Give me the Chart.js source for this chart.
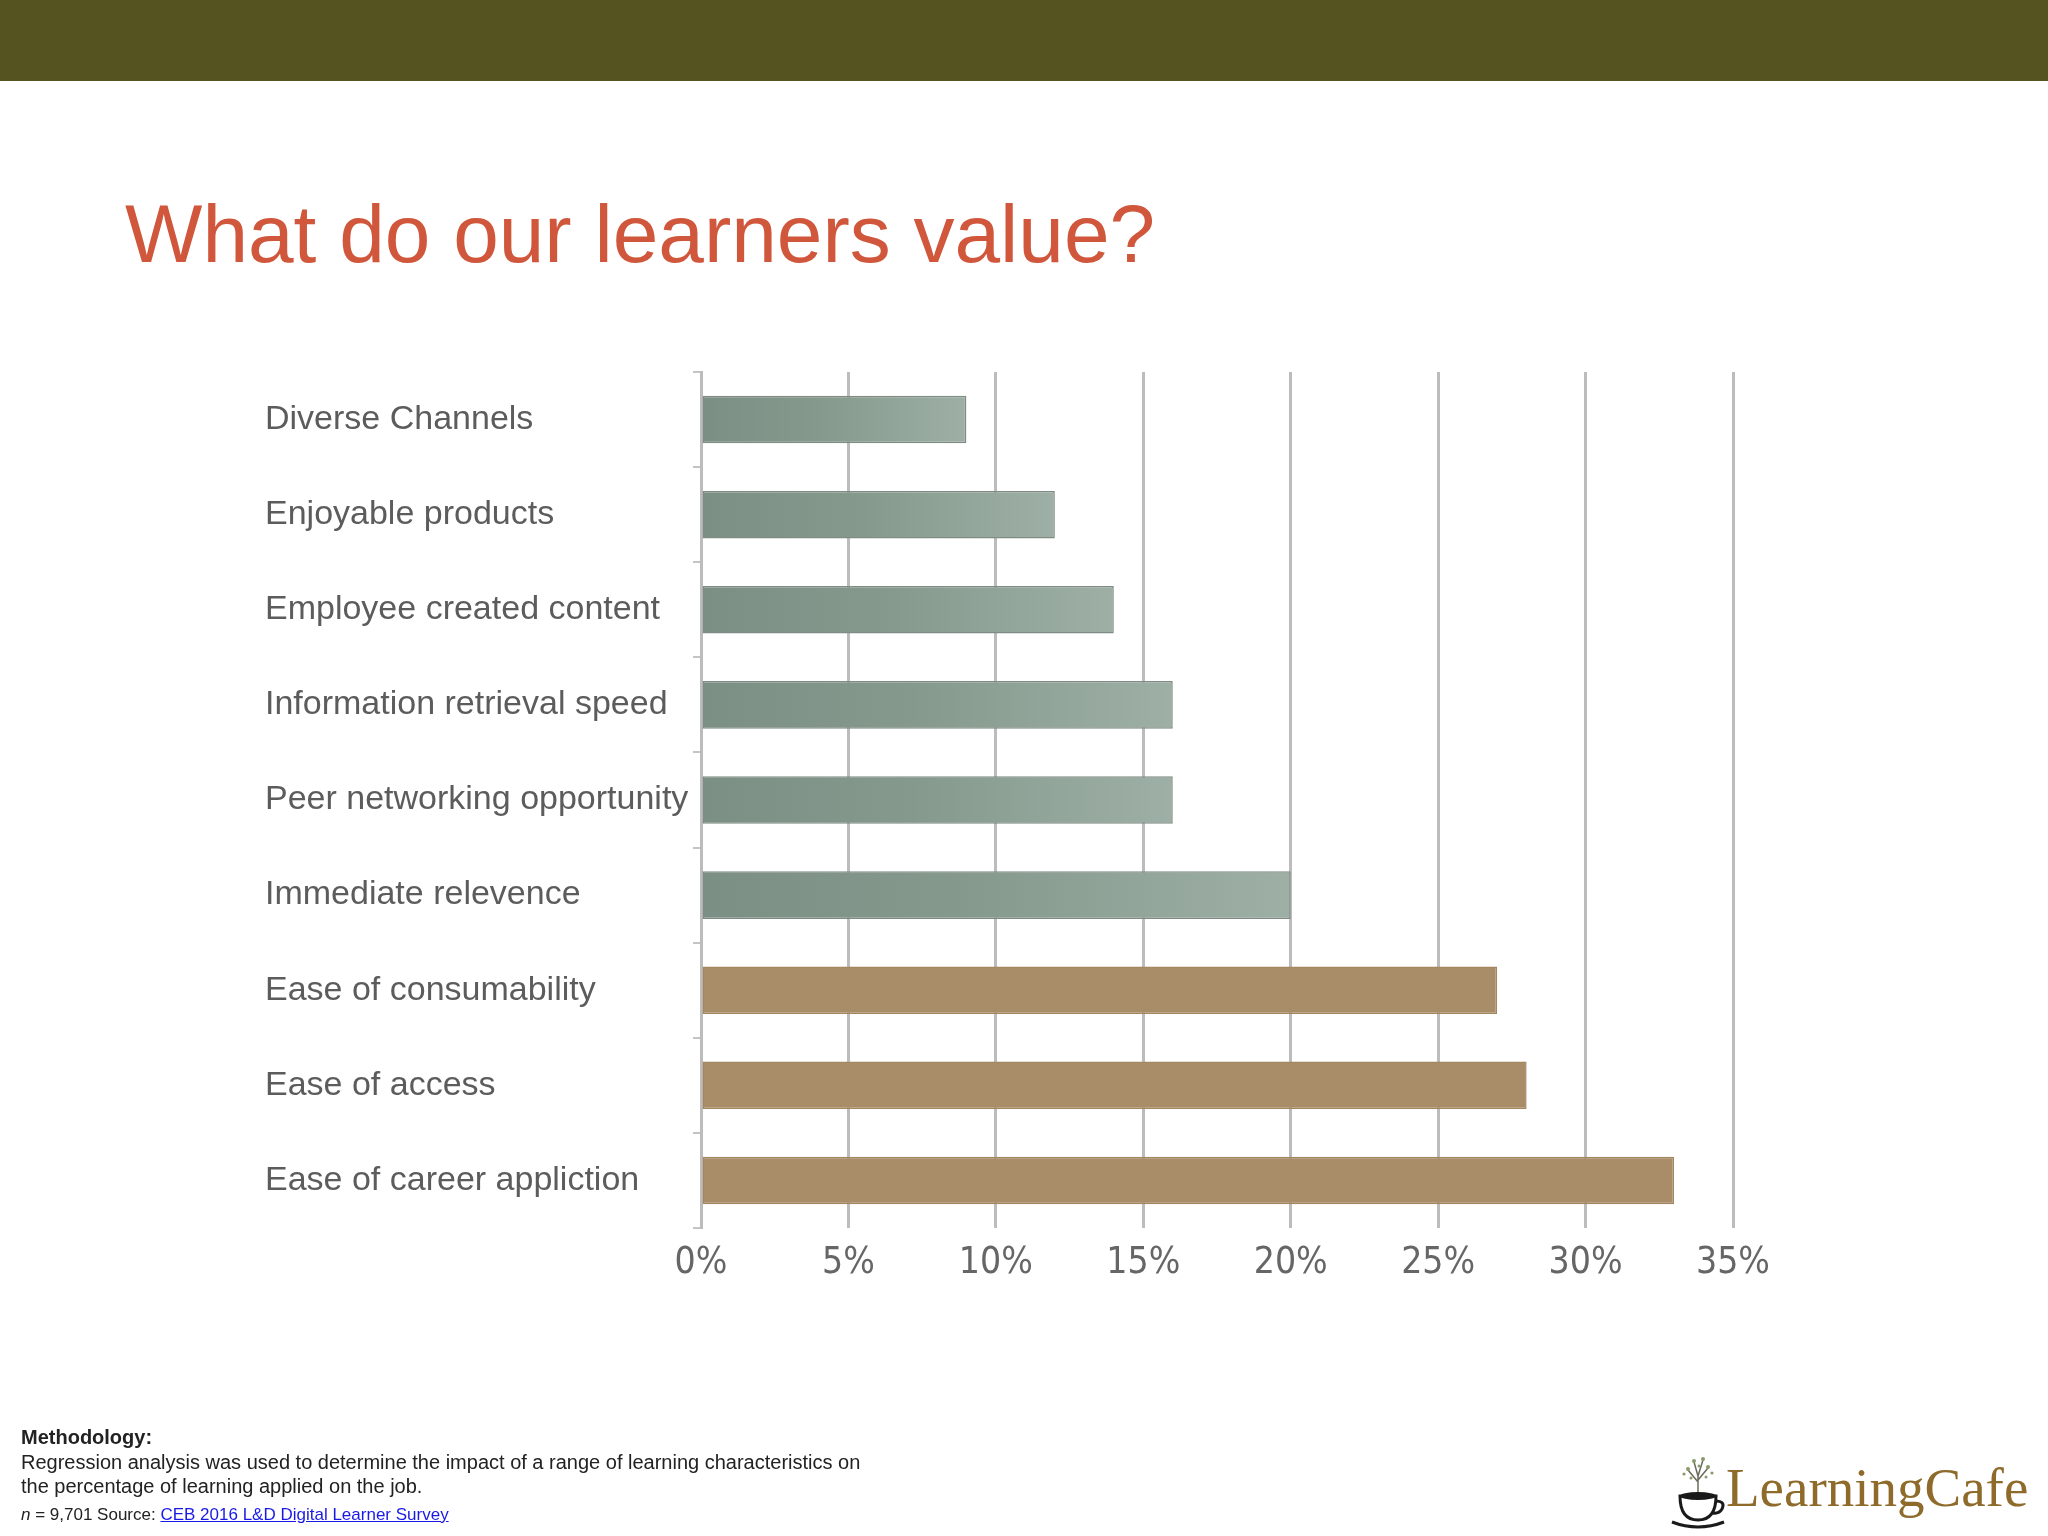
<!DOCTYPE html>
<html>
<head>
<meta charset="utf-8">
<title>What do our learners value?</title>
<script src="https://cdn.jsdelivr.net/npm/chart.js@4.4.1/dist/chart.umd.min.js"></script>
<style>
  html, body { margin: 0; padding: 0; background: #fff; }
  body { width: 2048px; height: 1536px; position: relative; overflow: hidden; font-family: "Liberation Sans", Arial, sans-serif; }
  #band { position: absolute; left: 0; top: 0; width: 2048px; height: 81px; background: #55531f; }
  #title { position: absolute; left: 125px; top: 193px; margin: 0; font-size: 82px; line-height: 1; font-weight: normal; color: #d0573c; }
  #wrap { position: absolute; left: 0; top: 0; width: 2048px; height: 1536px; }
  #notes { position: absolute; left: 21px; top: 1425px; font-size: 20px; line-height: 24.5px; color: #222; }
  #notes b { font-weight: bold; }
  #notes .src { font-size: 17px; margin-top: 4px; }
  #notes a { color: #1a1ae6; text-decoration: underline; }
  #logo { position: absolute; left: 1668px; top: 1452px; height: 80px; }
  #logo svg { position: absolute; left: 0; top: 0; }
  #logo span { position: absolute; left: 58px; top: 8px; font-family: "Liberation Serif", "Times New Roman", serif; font-size: 55px; line-height: 1; color: #8e6b2a; white-space: nowrap; }
</style>
</head>
<body>
<div id="band"></div>
<h1 id="title">What do our learners value?</h1>
<div id="wrap"><canvas id="learnerChart"></canvas></div>

<div id="notes">
  <div><b>Methodology:</b></div>
  <div>Regression analysis was used to determine the impact of a range of learning characteristics on</div>
  <div>the percentage of learning applied on the job.</div>
  <div class="src"><i>n</i> = 9,701 Source: <a href="#">CEB 2016 L&amp;D Digital Learner Survey</a></div>
</div>

<div id="logo">
  <svg width="60" height="80" viewBox="0 0 60 80">
    <!-- little tree growing out of the cup -->
    <g stroke="#6b6b5a" stroke-width="1.5" fill="none">
      <path d="M30 44 L30 22 M30 30 L20 18 M30 28 L40 16 M30 24 L26 10 M30 24 L35 8"/>
    </g>
    <g fill="#8a9a6a">
      <circle cx="20" cy="17" r="2"/><circle cx="16" cy="22" r="1.6"/><circle cx="40" cy="15" r="2"/>
      <circle cx="44" cy="21" r="1.6"/><circle cx="26" cy="9" r="2"/><circle cx="35" cy="7" r="2"/>
      <circle cx="23" cy="26" r="1.5"/><circle cx="38" cy="25" r="1.5"/><circle cx="31" cy="14" r="1.5"/>
    </g>
    <path d="M12 44 Q12 68 30 68 Q48 68 48 44 Z" fill="#fff" stroke="#1a1a1a" stroke-width="3"/>
    <ellipse cx="30" cy="44" rx="18" ry="4" fill="#1a1a1a"/>
    <path d="M47 49 Q58 49 54 57 Q51 62 45 61" fill="none" stroke="#1a1a1a" stroke-width="3"/>
    <path d="M4 70 Q30 80 56 70" fill="none" stroke="#1a1a1a" stroke-width="3"/>
  </svg>
  <span>LearningCafe</span>
</div>

<script>
// カテゴリと値（%）
const categories = [
  "Diverse Channels",
  "Enjoyable products",
  "Employee created content",
  "Information retrieval speed",
  "Peer networking opportunity",
  "Immediate relevence",
  "Ease of consumability",
  "Ease of access",
  "Ease of career appliction"
];
const values = [9, 12, 14, 16, 16, 20, 27, 28, 33];
// "ease" の3項目だけ茶色で強調
const groups = ["other", "other", "other", "other", "other", "other", "ease", "ease", "ease"];
const xTicks = [0, 5, 10, 15, 20, 25, 30, 35];

const tanColor = "#a98c68";

// 緑のバーは左が濃く右が薄いグラデーション
function barFill(context) {
  const chart = context.chart;
  if (groups[context.dataIndex] === "ease") return tanColor;
  if (!chart.chartArea) return "#8c9d93";
  const xScale = chart.scales.x;
  const x0 = xScale.getPixelForValue(0);
  const x1 = xScale.getPixelForValue(values[context.dataIndex]);
  const g = chart.ctx.createLinearGradient(x0, 0, x1, 0);
  g.addColorStop(0, "#7b8f84");
  g.addColorStop(0.45, "#85998d");
  g.addColorStop(1, "#9eb0a5");
  return g;
}

function barBorder(context) {
  return groups[context.dataIndex] === "ease" ? "#a3875f" : "#7f8c84";
}

const ctx = document.getElementById("learnerChart");
const chart = new Chart(ctx, {
  type: "bar",
  data: {
    labels: categories,
    datasets: [{
      label: "Learners value",
      data: values,
      backgroundColor: barFill,
      borderColor: barBorder,
      borderWidth: 1.5,
      borderSkipped: false,
      barPercentage: 0.5,
      categoryPercentage: 1.0
    }]
  },
  options: {
    indexAxis: "y",
    responsive: true,
    maintainAspectRatio: false,
    animation: false,
    layout: {
      padding: { left: 265, right: 315, top: 372, bottom: 238 }
    },
    plugins: {
      legend: { display: false },
      tooltip: { enabled: false }
    },
    scales: {
      x: {
        min: 0,
        max: 35,
        afterBuildTicks: (axis) => { axis.ticks = xTicks.map(v => ({ value: v })); },
        afterFit: (axis) => { axis.height = 70; },
        grid: { color: "#bcbcbc", lineWidth: 3, drawTicks: false },
        border: { display: false },
        ticks: {
          padding: 13,
          color: "#666666",
          font: { family: "'Liberation Sans Narrow', 'DejaVu Sans Condensed', 'Liberation Sans', sans-serif", size: 37 },
          callback: (v) => v + "%"
        }
      },
      y: {
        afterFit: (axis) => { axis.width = 436; },
        grid: { drawOnChartArea: false, color: "#c4c4c4", lineWidth: 2, tickLength: 8 },
        border: { display: true, color: "#bcbcbc", width: 3 },
        ticks: {
          crossAlign: "far",
          padding: 6,
          color: "#5c5c5c",
          font: { family: "'Liberation Sans', Arial, sans-serif", size: 34 }
        }
      }
    }
  }
});
</script>
</body>
</html>
